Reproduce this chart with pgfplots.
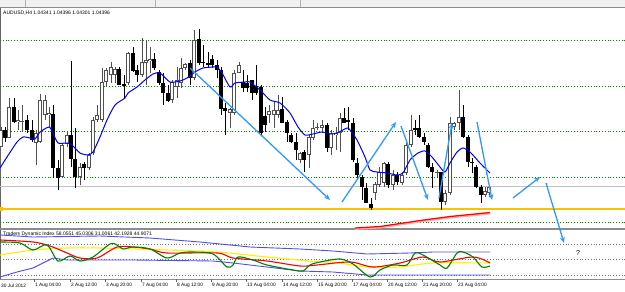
\documentclass[border=0pt]{standalone}
\usepackage{pgfplots}
\pgfplotsset{compat=1.18}
\usepackage{pgfplotstable}
\usepackage{fontspec}
\setmainfont{Liberation Sans}
\usetikzlibrary{arrows.meta}

\definecolor{mtgreen}{RGB}{0,140,0}
\definecolor{mtgray}{RGB}{192,192,192}
\definecolor{mtyellow}{RGB}{250,195,0}
\definecolor{mtblue}{RGB}{0,0,255}
\definecolor{arrowblue}{RGB}{51,153,255}
\definecolor{bandblue}{RGB}{80,80,225}
\definecolor{bullgray}{RGB}{80,80,80}
\definecolor{tdiyellow}{RGB}{255,240,0}
\definecolor{tdigreen}{RGB}{0,128,0}

% candles: x, high, body top, body bottom, low  (screen rows, larger = lower price)
\pgfplotstableread{
x hi top bot lo
1 127 130 147 147
9 98 107 138 138
18 110 120 122 130
22 105 121 122 132
36 130 133 143 165
40 94 100 142 143
45 95 100 115 120
49 107 113 115 127
62 143 145 177 178
67 132 135 144 147
80 163 167 177 185
89 153 155 168 170
93 117 120 153 155
97 105 115 120 122
102 68 82 120 122
106 68 70 82 87
111 62 67 75 83
115 67 69 75 83
128 52 53 83 85
142 38 62 75 77
146 40 60 63 85
150 47 59 61 73
172 80 82 100 103
177 67 80 87 98
181 58 68 83 88
185 63 64 68 70
194 30 40 78 80
230 108 109 113 128
234 70 73 113 115
239 62 65 73 73
269 105 111 115 123
274 102 110 115 128
278 95 110 115 118
300 152 153 160 163
309 135 137 155 168
313 120 128 138 140
317 123 127 128 130
322 120 125 128 133
331 130 133 148 155
336 127 133 135 150
340 113 118 133 152
375 182 184 193 200
379 167 172 185 187
384 162 163 183 187
393 170 175 185 190
402 172 175 183 185
406 143 145 173 175
411 115 130 145 147
437 170 172 173 177
445 190 193 202 205
450 117 123 193 195
454 122 123 127 130
459 90 117 123 130
485 187 191 195 197
489 185 187 193 197
}\bull
\pgfplotstableread{
x hi top bot lo
5 127 130 138 142
14 98 107 122 123
27 115 120 130 133
32 120 130 140 142
53 105 114 168 178
58 160 168 178 190
71 61 135 159 167
75 128 159 177 188
84 162 164 168 180
119 67 69 85 85
124 75 84 86 98
133 47 53 71 72
137 65 70 75 82
154 53 59 68 70
159 70 72 83 85
163 73 83 93 105
168 85 93 101 102
190 60 63 78 85
199 29 39 63 65
203 45 62 63 67
208 52 63 65 67
212 55 59 65 68
217 60 65 70 78
221 67 70 109 115
225 103 108 111 135
243 70 82 88 92
247 75 83 88 92
252 80 80 93 100
256 65 86 93 95
261 85 87 133 135
265 107 116 125 132
282 97 109 123 123
287 120 122 133 142
291 133 135 142 143
296 133 142 150 160
304 150 152 160 172
327 123 125 148 152
344 108 118 123 123
348 107 120 122 130
353 118 123 160 162
357 158 163 175 180
362 175 177 187 200
366 183 188 203 203
371 198 204 208 210
388 162 164 185 188
397 172 175 182 185
415 120 128 130 135
419 115 128 137 138
424 133 137 142 145
428 143 145 167 168
432 163 167 172 188
441 172 172 202 210
463 105 117 137 138
468 135 137 162 167
472 158 162 163 173
476 165 167 187 188
481 185 187 195 203
}\bear

% time-axis tick positions
\pgfplotstableread{
x y
34 279
70 279
105 279
141 279
176 279
211 279
246 279
282 279
317 279
352 279
387 279
422 279
457 279
}\ticks

\tikzset{lab/.style={anchor=west, inner sep=0pt, font=\fontsize{4.8}{6}\selectfont}}
\pgfplotsset{bar/.style={draw=none, mark=none, error bars/.cd, y dir=plus, y explicit, error mark=none},
  lvl/.style={mtgreen, line width=0.8pt, dash pattern=on 0.8pt off 2pt},
  ilvl/.style={black!55, line width=0.6pt, dash pattern=on 0.8pt off 2pt}}

\begin{document}
\begin{tikzpicture}
\begin{axis}[
  scale only axis, width=625pt, height=292pt,
  xmin=0, xmax=625, ymin=0, ymax=292, y dir=reverse,
  axis line style={draw=none}, xtick=\empty, ytick=\empty,
  clip=true,
]
% background and frame
\fill[white] (axis cs:0,0) rectangle (axis cs:625,292);
\fill[black!6] (axis cs:0,0) rectangle (axis cs:625,7.5);
\draw[black!45, line width=1pt] (axis cs:0,7.5) -- (axis cs:625,7.5);
\draw[black!30] (axis cs:155,0) -- (axis cs:155,7);
\draw[black!30] (axis cs:300,0) -- (axis cs:300,7);
\draw[black!30] (axis cs:25,0) -- (axis cs:25,7);
\draw[black!60, line width=1.2pt] (axis cs:0.5,8) -- (axis cs:0.5,279);
\draw[black!45, line width=1.6pt] (axis cs:0,229) -- (axis cs:625,229);
\draw[black!45, line width=0.6pt] (axis cs:0,279) -- (axis cs:625,279);

% grid levels
\addplot[lvl] coordinates {(0,40) (625,40)};
\addplot[lvl] coordinates {(0,86) (625,86)};
\addplot[lvl] coordinates {(0,131) (625,131)};
\addplot[lvl] coordinates {(0,177) (625,177)};
\addplot[lvl] coordinates {(0,222) (625,222)};
\addplot[mtgray, line width=0.8pt] coordinates {(0,186) (625,186)};
\addplot[mtyellow, line width=1.6pt] coordinates {(0,209) (625,209)};
\fill[mtyellow] (axis cs:0,207) rectangle (axis cs:3,211);

% red line
\addplot[red!35, line width=2pt] coordinates {(355,229) (380,227.5) (420,221.5) (450,217.5) (490,213.5)};
\addplot[red, line width=1.2pt] coordinates {(355,228) (380,226.5) (420,220.5) (450,216.5) (490,212.5)};

% candle wicks
\addplot[bar, error bar style={draw=bullgray, line width=0.9pt}]
  table[x=x, y=hi, y error plus expr=\thisrow{lo}-\thisrow{hi}] {\bull};
\addplot[bar, error bar style={draw=black, line width=0.9pt}]
  table[x=x, y=hi, y error plus expr=\thisrow{lo}-\thisrow{hi}] {\bear};
% bull bodies (outline + white fill)
\addplot[bar, error bar style={draw=bullgray, line width=3.6pt}]
  table[x=x, y=top, y error plus expr={max(\thisrow{bot}-\thisrow{top},1)}] {\bull};
\addplot[bar, error bar style={draw=white, line width=2.0pt}]
  table[x=x, y expr=\thisrow{top}+0.8, y error plus expr={max(\thisrow{bot}-\thisrow{top}-1.6,0)}] {\bull};
% bear bodies
\addplot[bar, error bar style={draw=black, line width=3.4pt}]
  table[x=x, y=top, y error plus expr={max(\thisrow{bot}-\thisrow{top},1)}] {\bear};

% moving average
\addplot[mtblue, line width=1pt, smooth, tension=0.4] coordinates {
(0,168) (7,157) (17,142) (23,137) (30,138) (35,139) (40,132) (49,127) (53,133) (58,143)
(67,143) (72,145) (80,153) (88,155) (93,152) (100,137) (107,120) (115,105) (125,98)
(128,93) (137,87) (145,80) (153,74) (160,73) (170,82) (180,81) (187,78) (195,72) (203,68)
(213,67) (217,67) (222,73) (230,87) (235,83) (245,82) (250,82) (260,90) (270,100) (280,103)
(290,113) (298,127) (305,135) (313,134) (322,132) (330,134) (337,133) (347,128) (350,130)
(357,140) (365,157) (370,170) (377,172) (387,173) (397,175) (403,173) (410,160) (418,153)
(425,151) (432,157) (440,167) (445,172) (450,163) (457,152) (463,148) (470,152) (480,163) (490,173)};

% hand-drawn arrows
\addplot[arrowblue, line width=1.3pt, -{Stealth[length=6pt,width=5pt]}] coordinates {(190,68) (330,200)};
\addplot[arrowblue, line width=1.3pt, -{Stealth[length=6pt,width=5pt]}] coordinates {(342,202) (396,122)};
\addplot[arrowblue, line width=1.3pt, -{Stealth[length=6pt,width=5pt]}] coordinates {(401,126) (428,200)};
\addplot[arrowblue, line width=1.3pt, -{Stealth[length=6pt,width=5pt]}] coordinates {(439,198) (452,123)};
\addplot[arrowblue, line width=1.3pt, -{Stealth[length=6pt,width=5pt]}] coordinates {(477,122) (492,200)};
\addplot[arrowblue, line width=1.3pt, -{Stealth[length=6pt,width=5pt]}] coordinates {(513,198) (540,177)};
\addplot[arrowblue, line width=1.3pt, -{Stealth[length=6pt,width=5pt]}] coordinates {(546,183) (564,243)};

% indicator panel levels
\addplot[ilvl] coordinates {(0,244) (625,244)};
\addplot[ilvl] coordinates {(0,259) (625,259)};
\addplot[ilvl] coordinates {(0,275) (625,275)};
% TDI bands
\addplot[bandblue, line width=0.9pt] coordinates {(0,235) (33,237) (100,236) (150,238) (200,242) (250,247) (300,249) (333,251) (367,254) (410,253) (433,252) (490,252)};
\addplot[bandblue, line width=0.9pt] coordinates {(0,277) (17,272) (33,268) (43,263) (53,258) (67,260) (133,260) (213,261) (233,263) (267,267) (300,271) (333,272) (367,275) (400,275) (490,275)};
\addplot[tdiyellow, line width=1.1pt, smooth] coordinates {(0,255) (33,250) (67,248) (100,248) (167,250) (217,252) (267,257) (320,262) (333,262) (367,267) (400,267) (433,263) (490,263)};
\addplot[red, line width=1.1pt, smooth] coordinates {(0,240) (33,242) (50,246) (67,253) (80,258) (97,258) (117,247) (133,247) (150,249) (167,253) (217,253) (233,258) (267,261) (300,266) (317,265) (350,262) (373,267) (400,263) (423,257) (440,262) (473,257) (490,263)};
\addplot[tdigreen, line width=1.1pt, smooth] coordinates {(0,242) (20,243) (33,250) (47,245) (58,261) (70,256) (80,261) (93,257) (110,244) (117,245) (123,249) (133,247) (150,249) (167,258) (180,253) (193,252) (213,254) (227,267) (233,265) (238,257) (253,260) (267,265) (293,270) (303,271) (310,265) (320,262) (340,259) (353,264) (370,277) (380,270) (393,265) (407,265) (415,253) (423,255) (440,265) (447,268) (457,253) (463,252) (473,257) (482,267) (490,266)};

% texts
\node[anchor=west, inner sep=0pt, font=\fontsize{5}{6}\selectfont] at (axis cs:3,13) {AUDUSD,H4 1.04341 1.04396 1.04301 1.04396};
\node[anchor=west, inner sep=0pt, font=\fontsize{5}{6}\selectfont] at (axis cs:3,234.5) {Traders Dynamic Index 58.0551 45.0306 31.0061 42.1928 44.9071};
\node[inner sep=0pt, font=\fontsize{7}{8}\selectfont] at (axis cs:578,253) {?};

% time axis ticks and labels
\addplot[bar, error bar style={draw=black!60, line width=0.6pt}]
  table[x=x, y=y, y error plus expr=3] {\ticks};
\node[lab] at (axis cs:1,285.5) {30 Jul 2012};
\node[lab] at (axis cs:35,285.5) {1 Aug 04:00};
\node[lab] at (axis cs:71,285.5) {2 Aug 12:00};
\node[lab] at (axis cs:106,285.5) {3 Aug 20:00};
\node[lab] at (axis cs:142,285.5) {7 Aug 04:00};
\node[lab] at (axis cs:177,285.5) {8 Aug 12:00};
\node[lab] at (axis cs:212,285.5) {9 Aug 20:00};
\node[lab] at (axis cs:247,285.5) {13 Aug 04:00};
\node[lab] at (axis cs:283,285.5) {14 Aug 12:00};
\node[lab] at (axis cs:318,285.5) {15 Aug 20:00};
\node[lab] at (axis cs:353,285.5) {17 Aug 04:00};
\node[lab] at (axis cs:388,285.5) {20 Aug 12:00};
\node[lab] at (axis cs:423,285.5) {21 Aug 20:00};
\node[lab] at (axis cs:458,285.5) {23 Aug 04:00};
\end{axis}
\end{tikzpicture}
\end{document}
